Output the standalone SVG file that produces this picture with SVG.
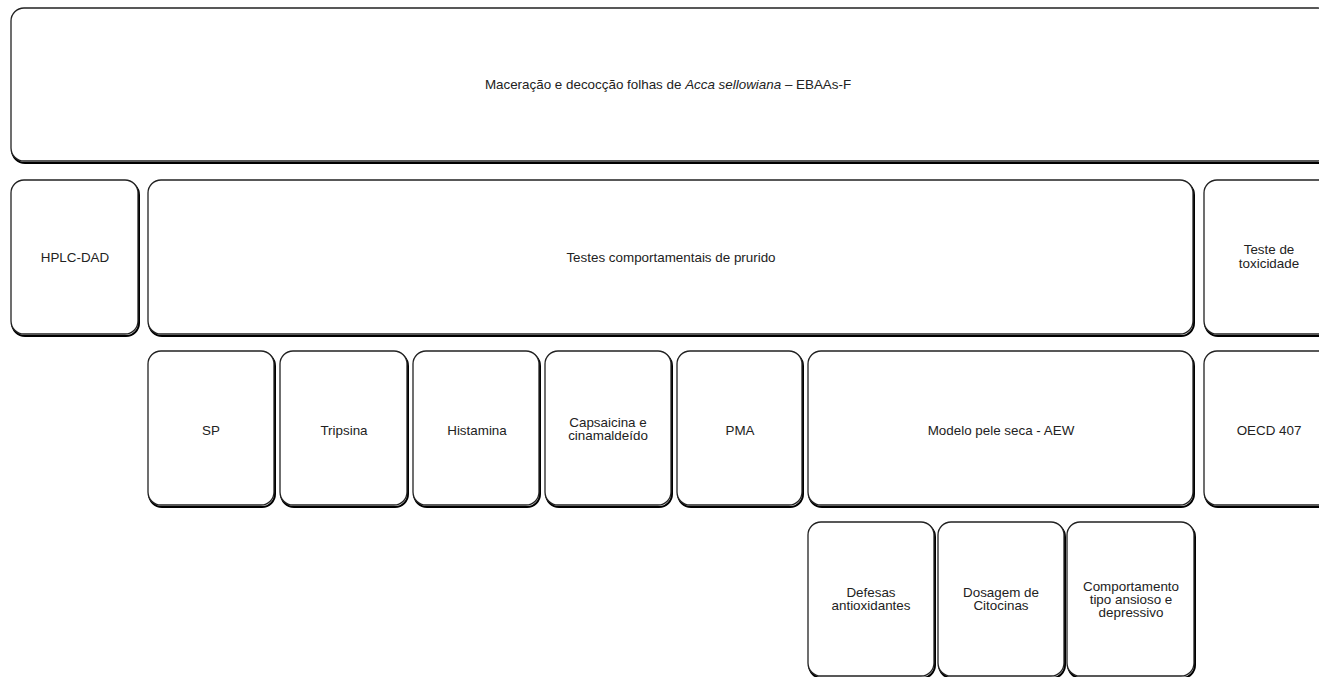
<svg xmlns="http://www.w3.org/2000/svg" width="1319" height="677" viewBox="0 0 1319 677">
<defs>
<style>
.sh{fill:none;stroke:#000;stroke-width:2}
.bx{fill:#fff;stroke:#222;stroke-width:1.3}
text{font-family:"Liberation Sans",Arial,sans-serif;font-size:13.4px;fill:#222;text-anchor:middle}
</style>
</defs>
<rect width="1319" height="677" fill="#fff"/>
<g id="n-top">
<rect class="sh" x="12" y="10" width="1320" height="153" rx="13" stroke-width="3"/>
<rect class="bx" x="11" y="8" width="1320" height="153" rx="13"/>
<text x="668" y="89">Maceração e decocção folhas de <tspan font-style="italic">Acca sellowiana</tspan> – EBAAs-F</text>
</g>
<g id="n-hplc">
<rect class="sh" x="12" y="182" width="127" height="154" rx="13"/>
<rect class="bx" x="11" y="180" width="127" height="154" rx="13"/>
<text x="75" y="262">HPLC-DAD</text>
</g>
<g id="n-testes">
<rect class="sh" x="149" y="182" width="1045" height="154" rx="13"/>
<rect class="bx" x="148" y="180" width="1045" height="154" rx="13"/>
<text x="671" y="262">Testes comportamentais de prurido</text>
</g>
<g id="n-tox">
<rect class="sh" x="1205" y="182" width="128" height="154" rx="13"/>
<rect class="bx" x="1204" y="180" width="128" height="154" rx="13"/>
<text x="1269" y="254">Teste de</text>
<text x="1269" y="268">toxicidade</text>
</g>
<g id="n-sp">
<rect class="sh" x="149" y="353" width="126" height="154" rx="13"/>
<rect class="bx" x="148" y="351" width="126" height="154" rx="13"/>
<text x="211" y="435">SP</text>
</g>
<g id="n-tripsina">
<rect class="sh" x="281" y="353" width="127" height="154" rx="13"/>
<rect class="bx" x="280" y="351" width="127" height="154" rx="13"/>
<text x="344" y="435">Tripsina</text>
</g>
<g id="n-histamina">
<rect class="sh" x="414" y="353" width="126" height="154" rx="13"/>
<rect class="bx" x="413" y="351" width="126" height="154" rx="13"/>
<text x="477" y="435">Histamina</text>
</g>
<g id="n-capsaicina">
<rect class="sh" x="546" y="353" width="126" height="154" rx="13"/>
<rect class="bx" x="545" y="351" width="126" height="154" rx="13"/>
<text x="608" y="427">Capsaicina e</text>
<text x="608" y="440">cinamaldeído</text>
</g>
<g id="n-pma">
<rect class="sh" x="678" y="353" width="125" height="154" rx="13"/>
<rect class="bx" x="677" y="351" width="125" height="154" rx="13"/>
<text x="740" y="435">PMA</text>
</g>
<g id="n-modelo">
<rect class="sh" x="809" y="353" width="385" height="154" rx="13"/>
<rect class="bx" x="808" y="351" width="385" height="154" rx="13"/>
<text x="1001" y="435">Modelo pele seca - AEW</text>
</g>
<g id="n-oecd">
<rect class="sh" x="1205" y="353" width="128" height="154" rx="13"/>
<rect class="bx" x="1204" y="351" width="128" height="154" rx="13"/>
<text x="1269" y="435">OECD 407</text>
</g>
<g id="n-defesas">
<rect class="sh" x="809" y="524" width="126" height="154" rx="13"/>
<rect class="bx" x="808" y="522" width="126" height="154" rx="13"/>
<text x="871" y="597">Defesas</text>
<text x="871" y="610">antioxidantes</text>
</g>
<g id="n-dosagem">
<rect class="sh" x="939" y="524" width="126" height="154" rx="13"/>
<rect class="bx" x="938" y="522" width="126" height="154" rx="13"/>
<text x="1001" y="597">Dosagem de</text>
<text x="1001" y="610">Citocinas</text>
</g>
<g id="n-comportamento">
<rect class="sh" x="1068" y="524" width="127" height="154" rx="13"/>
<rect class="bx" x="1067" y="522" width="127" height="154" rx="13"/>
<text x="1131" y="591">Comportamento</text>
<text x="1131" y="604">tipo ansioso e</text>
<text x="1131" y="617">depressivo</text>
</g>
<g id="connectors"></g>
</svg>
